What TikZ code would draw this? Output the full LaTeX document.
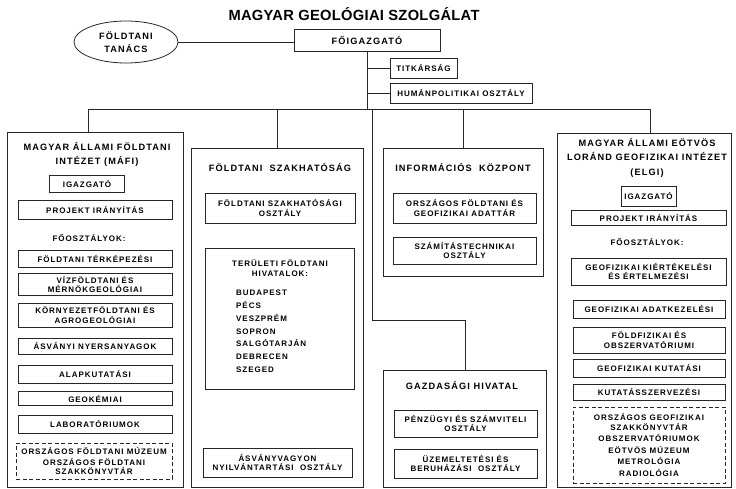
\documentclass[tikz,border=0pt]{standalone}
\usepackage{fontspec}
\newfontfamily\orgfont[LetterSpace=12]{Liberation Sans}
\newfontfamily\headfamily[LetterSpace=2]{Liberation Sans}
\newcommand{\boxfont}{\orgfont\bfseries\fontsize{8}{9.4}\selectfont}
\newcommand{\colfont}{\orgfont\bfseries\fontsize{9.2}{14.5}\selectfont}
\newcommand{\ovalfont}{\orgfont\bfseries\fontsize{9.2}{12.5}\selectfont}
\newcommand{\headfont}{\headfamily\bfseries\fontsize{14.7}{17}\selectfont}
\usetikzlibrary{shapes.geometric, positioning}

\begin{document}
\begin{tikzpicture}[
  x=1pt, y=-1pt,
  box/.style     = {rectangle, draw=black!85, line width=0.8pt,
                    align=center, font=\boxfont, inner sep=1pt},
  dashbox/.style = {box, dash pattern=on 4pt off 2.5pt},
  colbox/.style  = {rectangle, draw=black!85, line width=0.9pt, inner sep=0pt},
  ttl/.style     = {align=center, font=\colfont, inner sep=1pt},
  lbl/.style     = {align=center, font=\boxfont, inner sep=1pt},
  conn/.style    = {line width=0.8pt, black!85},
]
\useasboundingbox (0,0) rectangle (736,489);

%% ── Head ────────────────────────────────────────────────────────────────
\node[font=\headfont] (head) at (354,14) {MAGYAR GEOLÓGIAI SZOLGÁLAT};
\node[ellipse, draw=black!85, line width=0.8pt, minimum width=104, minimum height=42,
      inner sep=0pt, align=center, font=\ovalfont] (tanacs) at (126,42) {FÖLDTANI\\TANÁCS};
\node[box, minimum width=146, minimum height=22, font=\colfont] (foig) at (367,40) {FŐIGAZGATÓ};
\node[box, minimum width=67,  minimum height=20] (titk)  at (423.5,68) {TITKÁRSÁG};
\node[box, minimum width=142, minimum height=20] (human) at (461,93)   {HUMÁNPOLITIKAI OSZTÁLY};

%% ── Columns ─────────────────────────────────────────────────────────────
\node[colbox, minimum width=176, minimum height=355] (mafi) at (95,309.5)  {};
\node[colbox, minimum width=172, minimum height=339] (szak) at (277,317.5) {};
\node[colbox, minimum width=160, minimum height=128] (info) at (463,212)   {};
\node[colbox, minimum width=163, minimum height=117] (gazd) at (465,428.5) {};
\node[colbox, minimum width=174, minimum height=354] (elgi) at (644,310)   {};

%% ── MÁFI ────────────────────────────────────────────────────────────────
\node[ttl] (mafittl) at (97,154.5) {MAGYAR ÁLLAMI FÖLDTANI\\INTÉZET (MÁFI)};
\node[box, minimum width=75,  minimum height=17] (igaz1) at (87,183.5) {IGAZGATÓ};
\node[box, minimum width=154, minimum height=19] (proj1) at (95,210)   {PROJEKT IRÁNYÍTÁS};
\node[lbl] (foo1) at (89,238) {FŐOSZTÁLYOK:};
\node[box, minimum width=154, minimum height=17] (terk)  at (95,258.5) {FÖLDTANI TÉRKÉPEZÉSI};
\node[box, minimum width=154, minimum height=22] (viz)   at (95,284.5) {VÍZFÖLDTANI ÉS\\MÉRNÖKGEOLÓGIAI};
\node[box, minimum width=154, minimum height=24] (korny) at (95,315)   {KÖRNYEZETFÖLDTANI ÉS\\AGROGEOLÓGIAI};
\node[box, minimum width=154, minimum height=16] (asvny) at (95,346)   {ÁSVÁNYI NYERSANYAGOK};
\node[box, minimum width=154, minimum height=18] (alap)  at (95,374)   {ALAPKUTATÁSI};
\node[box, minimum width=154, minimum height=14] (geok)  at (95,398.5) {GEOKÉMIAI};
\node[box, minimum width=154, minimum height=18] (labor) at (95,424)   {LABORATÓRIUMOK};
\node[dashbox, minimum width=156, minimum height=36] (muz1) at (94,461)
     {ORSZÁGOS FÖLDTANI MÚZEUM\\[2pt]ORSZÁGOS FÖLDTANI\\SZAKKÖNYVTÁR};

%% ── Szakhatóság ─────────────────────────────────────────────────────────
\node[ttl] (szakttl) at (280,167) {FÖLDTANI\ \ SZAKHATÓSÁG};
\node[box, minimum width=150, minimum height=30] (szo)   at (280,208)   {FÖLDTANI SZAKHATÓSÁGI\\OSZTÁLY};
\node[box, minimum width=149, minimum height=141] (terul) at (279.5,318.5) {};
\node[lbl] (hiv) at (280,268) {TERÜLETI FÖLDTANI\\HIVATALOK:};
\node[lbl, align=left, anchor=north west] (varos) at (235,289)
     {BUDAPEST\\[3.4pt]PÉCS\\[3.4pt]VESZPRÉM\\[3.4pt]SOPRON\\[3.4pt]SALGÓTARJÁN\\[3.4pt]DEBRECEN\\[3.4pt]SZEGED};
\node[box, minimum width=149, minimum height=29] (asvv)  at (277.5,462.5) {ÁSVÁNYVAGYON\\NYILVÁNTARTÁSI\ \ OSZTÁLY};

%% ── Információs központ, Gazdasági hivatal ──────────────────────────────
\node[ttl] (infottl) at (463,167) {INFORMÁCIÓS\ \ KÖZPONT};
\node[box, minimum width=143, minimum height=30] (adat) at (464.5,208)   {ORSZÁGOS FÖLDTANI ÉS\\GEOFIZIKAI ADATTÁR};
\node[box, minimum width=143, minimum height=27] (szam) at (464.5,250.5) {SZÁMÍTÁSTECHNIKAI\\OSZTÁLY};
\node[ttl] (gazdttl) at (462,385) {GAZDASÁGI HIVATAL};
\node[box, minimum width=143, minimum height=27] (penz) at (465.5,423.5) {PÉNZÜGYI ÉS SZÁMVITELI\\OSZTÁLY};
\node[box, minimum width=143, minimum height=29] (uzem) at (465.5,463.5) {ÜZEMELTETÉSI ÉS\\BERUHÁZÁSI\ \ OSZTÁLY};

%% ── ELGI ────────────────────────────────────────────────────────────────
\node[ttl] (elgittl) at (647,157.5) {MAGYAR ÁLLAMI EÖTVÖS\\LORÁND GEOFIZIKAI INTÉZET\\(ELGI)};
\node[box, minimum width=55,  minimum height=20] (igaz2) at (648.5,196)   {IGAZGATÓ};
\node[box, minimum width=155, minimum height=15] (proj2) at (648.5,217.5) {PROJEKT IRÁNYÍTÁS};
\node[lbl] (foo2) at (647,242) {FŐOSZTÁLYOK:};
\node[box, minimum width=155, minimum height=27] (gkier) at (648.5,271.5) {GEOFIZIKAI KIÉRTÉKELÉSI\\ÉS ÉRTELMEZÉSI};
\node[box, minimum width=152, minimum height=18] (gadat) at (649,309)   {GEOFIZIKAI ADATKEZELÉSI};
\node[box, minimum width=152, minimum height=26] (fold)  at (649,340)   {FÖLDFIZIKAI ÉS\\OBSZERVATÓRIUMI};
\node[box, minimum width=152, minimum height=18] (gkut)  at (649,368)   {GEOFIZIKAI KUTATÁSI};
\node[box, minimum width=152, minimum height=16] (kutsz) at (649,392)   {KUTATÁSSZERVEZÉSI};
\node[dashbox, minimum width=152, minimum height=76] (muz2) at (649,445)
     {ORSZÁGOS GEOFIZIKAI\\SZAKKÖNYVTÁR\\[2.2pt]OBSZERVATÓRIUMOK\\[2.2pt]EÖTVÖS MÚZEUM\\[2.2pt]METROLÓGIA\\[2.2pt]RADIOLÓGIA};

%% ── Connectors ──────────────────────────────────────────────────────────
\coordinate (bus) at (367,109);
\coordinate (gbranch) at (372,109);
\path ([xshift=-7pt]mafi.north) coordinate (mafidrop);
\path ([xshift=6pt]elgi.north)  coordinate (elgidrop);
\draw[conn] (tanacs.east) -- (tanacs.east -| foig.west);
\draw[conn] (foig.south) -- (bus);
\draw[conn] (titk.west)  -- (titk.west -| foig.south);
\draw[conn] (human.west) -- (human.west -| foig.south);
\draw[conn] (mafidrop) -- (mafidrop |- bus) -- (elgidrop |- bus) -- (elgidrop);
\draw[conn] (szak.north) -- (szak.north |- bus);
\draw[conn] (info.north) -- (info.north |- bus);
\draw[conn] (gbranch) |- ([yshift=49pt]gazd.north) -- (gazd.north);

\end{tikzpicture}
\end{document}
